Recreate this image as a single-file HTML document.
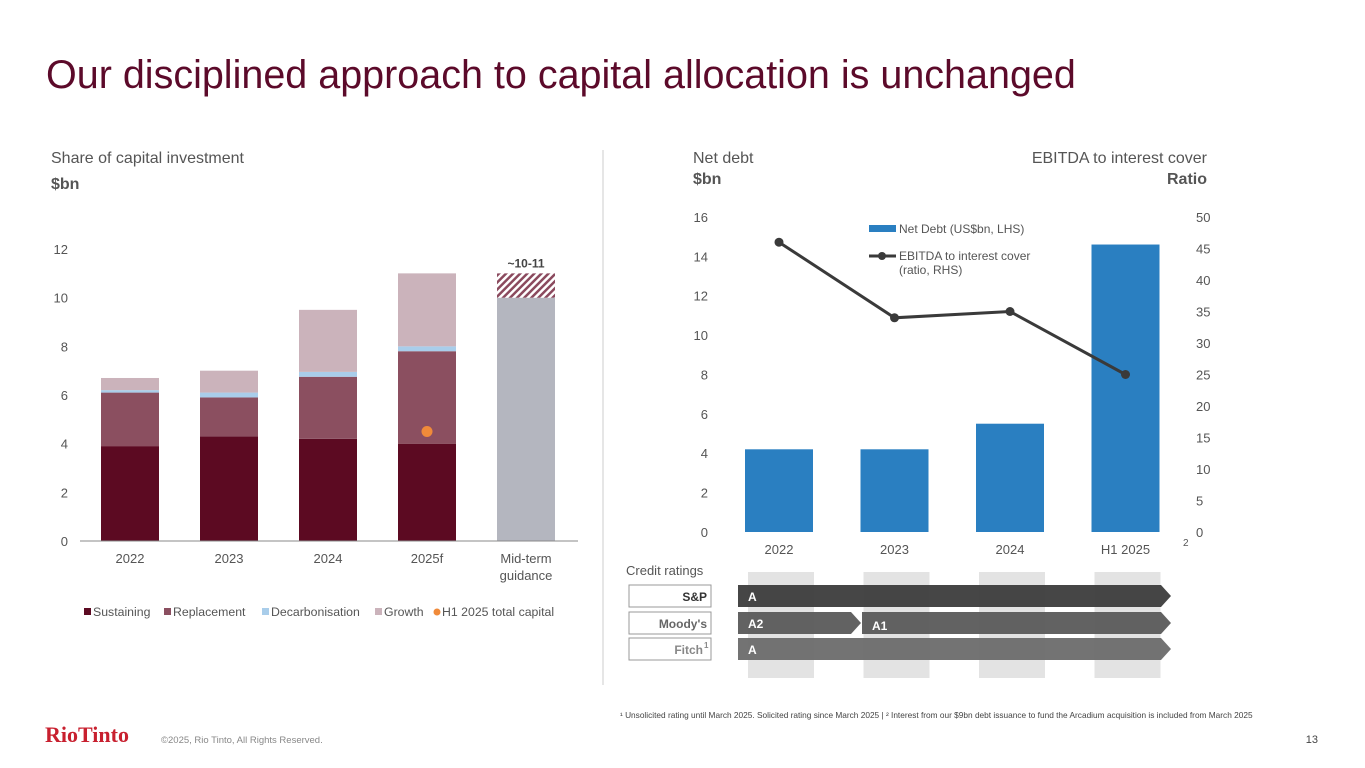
<!DOCTYPE html>
<html><head><meta charset="utf-8">
<style>
body{margin:0;width:1365px;height:768px;background:#fff;overflow:hidden;font-family:"Liberation Sans",sans-serif;}
svg{position:absolute;left:0;top:0}
</style></head>
<body>
<svg id="s" width="1365" height="768" font-family="Liberation Sans, sans-serif">
<defs>
<pattern id="hatch" patternUnits="userSpaceOnUse" width="5" height="5" patternTransform="rotate(45)">
<rect width="5" height="5" fill="#fff"/><rect width="2.5" height="5" fill="#8b4a5e"/>
</pattern>
</defs>
<text x="46" y="88" font-size="39.5" fill="#5c0a2a">Our disciplined approach to capital allocation is unchanged</text>
<text x="51" y="163" font-size="16" fill="#555">Share of capital investment</text>
<text x="51" y="189" font-size="16" font-weight="bold" fill="#555">$bn</text>
<line x1="603" y1="150" x2="603" y2="685" stroke="#ccc" stroke-width="1"/>
<text x="693" y="163" font-size="16" fill="#555">Net debt</text>
<text x="693" y="184" font-size="16" font-weight="bold" fill="#555">$bn</text>
<text x="1207" y="163" font-size="16" fill="#555" text-anchor="end">EBITDA to interest cover</text>
<text x="1207" y="184" font-size="16" font-weight="bold" fill="#555" text-anchor="end">Ratio</text>
<g id="left"></g>
<g id="right"></g>
<g id="credit"></g>
<text x="620" y="718" font-size="8.3" fill="#444">¹ Unsolicited rating until March 2025. Solicited rating since March 2025 | ² Interest from our $9bn debt issuance to fund the Arcadium acquisition is included from March 2025</text>
<text x="45" y="742" font-size="22" font-weight="bold" font-family="Liberation Serif, serif" fill="#c8202f">RioTinto</text>
<text x="161" y="743" font-size="9.5" fill="#888">©2025, Rio Tinto, All Rights Reserved.</text>
<text x="1318" y="743" font-size="11" fill="#444" text-anchor="end">13</text>
</svg>
<script>
const NS="http://www.w3.org/2000/svg";
function mk(p,tag,at,txt){const e=document.createElementNS(NS,tag);for(const k in at)e.setAttribute(k,at[k]);if(txt!=null)e.textContent=txt;p.appendChild(e);return e;}

// Left chart data
const capCategories=["2022","2023","2024","2025f"];
const sustaining=[3.9,4.3,4.2,4.0];
const replacement=[2.2,1.6,2.55,3.8];
const decarbonisation=[0.1,0.2,0.2,0.2];
const growth=[0.5,0.9,2.55,3.0];
const guidanceLow=[10];
const guidanceHigh=[11];
const h1TotalCapital=[4.5];
const leftTicks=[0,2,4,6,8,10,12];

// Right chart data
const debtCategories=["2022","2023","2024","H1 2025"];
const netDebt=[4.2,4.2,5.5,14.6];
const cover=[46,34,35,25];
const lhsTicks=[0,2,4,6,8,10,12,14,16];
const rhsTicks=[0,5,10,15,20,25,30,35,40,45,50];

// Left chart
const L=document.getElementById('left');
const ly=v=>541-v*24.33;
const lx=i=>101+i*99;
const bw=58;
leftTicks.forEach(t=>{const e=mk(L,'text',{x:68,y:ly(t)+5,'font-size':13,fill:'#555','text-anchor':'end'},t);

});
const cols=['#5c0a22','#8b4f60','#a9cdea','#cbb3bb'];
const names=['sustaining','replacement','decarbonisation','growth'];
const series=[sustaining,replacement,decarbonisation,growth];
capCategories.forEach((c,i)=>{let base=0;
series.forEach((s,k)=>{const r=mk(L,'rect',{x:lx(i),y:ly(base+s[i]),width:bw,height:ly(base)-ly(base+s[i]),fill:cols[k]});


base+=s[i];});
const t=mk(L,'text',{x:lx(i)+bw/2,y:563,'font-size':13,fill:'#555','text-anchor':'middle'},c);

});
{const i=4;
const g=mk(L,'rect',{x:lx(i),y:ly(guidanceLow[0]),width:bw,height:ly(0)-ly(guidanceLow[0]),fill:'#b4b6bf'});


const h=mk(L,'rect',{x:lx(i),y:ly(guidanceHigh[0]),width:bw,height:ly(guidanceLow[0])-ly(guidanceHigh[0]),fill:'url(#hatch)'});


const lb=mk(L,'text',{x:lx(i)+bw/2,y:ly(guidanceHigh[0])-6,'font-size':12,'font-weight':'bold',fill:'#444','text-anchor':'middle'},'~10-11');


const t1=mk(L,'text',{x:lx(i)+bw/2,y:563,'font-size':13,fill:'#555','text-anchor':'middle'},'Mid-term');


const t2=mk(L,'text',{x:lx(i)+bw/2,y:580,'font-size':13,fill:'#555','text-anchor':'middle'},'guidance');

}
const ax=mk(L,'line',{x1:80,y1:541,x2:578,y2:541,stroke:'#888'});


const dot=mk(L,'circle',{cx:lx(3)+bw/2,cy:ly(h1TotalCapital[0]),r:5.5,fill:'#f08a3a'});


const legItems=[['Sustaining','#5c0a22',84],['Replacement','#8b4f60',164],['Decarbonisation','#a9cdea',262],['Growth','#cbb3bb',375],['H1 2025 total capital','#f08a3a',433]];
legItems.forEach((it,k)=>{
const m=k==4?mk(L,'circle',{cx:it[2]+4,cy:612,r:3.5,fill:it[1]}):mk(L,'rect',{x:it[2],y:608,width:7,height:7,fill:it[1]});


const t=mk(L,'text',{x:it[2]+9,y:616,'font-size':12.3,fill:'#555'},it[0]);

});

// Right chart
const R=document.getElementById('right');
const ry=v=>532-v*19.69;
const ry2=v=>532-v*6.3;
const rx=i=>745+i*115.5;
const rbw=68;
lhsTicks.forEach(t=>{const e=mk(R,'text',{x:708,y:ry(t)+5,'font-size':13,fill:'#555','text-anchor':'end'},t);

});
rhsTicks.forEach(t=>{const e=mk(R,'text',{x:1196,y:ry2(t)+5,'font-size':13,fill:'#555'},t);

});
debtCategories.forEach((c,i)=>{
const b=mk(R,'rect',{x:rx(i),y:ry(netDebt[i]),width:rbw,height:ry(0)-ry(netDebt[i]),fill:'#2a7fc1'});


const t=mk(R,'text',{x:rx(i)+rbw/2,y:554,'font-size':13,fill:'#555','text-anchor':'middle'},c);

});
const sup=mk(R,'text',{x:1183,y:546,'font-size':10,fill:'#555'},'2');


const pts=cover.map((v,i)=>(rx(i)+rbw/2)+','+ry2(v)).join(' ');
const pl=mk(R,'polyline',{points:pts,fill:'none',stroke:'#3a3a3a','stroke-width':3});


cover.forEach((v,i)=>{const c=mk(R,'circle',{cx:rx(i)+rbw/2,cy:ry2(v),r:4.5,fill:'#3a3a3a'});

});
const l1=mk(R,'rect',{x:869,y:225,width:27,height:7,fill:'#2a7fc1'});


const l1t=mk(R,'text',{x:899,y:233,'font-size':12,fill:'#555'},'Net Debt (US$bn, LHS)');


const l2=mk(R,'line',{x1:869,y1:256,x2:896,y2:256,stroke:'#3a3a3a','stroke-width':3});


const l2c=mk(R,'circle',{cx:882,cy:256,r:4,fill:'#3a3a3a'});


const l2t=mk(R,'text',{x:899,y:260,'font-size':12,fill:'#555'},'EBITDA to interest cover');


const l3t=mk(R,'text',{x:899,y:274,'font-size':12,fill:'#555'},'(ratio, RHS)');



// Credit ratings
const C=document.getElementById('credit');
const ct=mk(C,'text',{x:626,y:575,'font-size':13,fill:'#555'},'Credit ratings');


debtCategories.forEach((c,i)=>{const r=mk(C,'rect',{x:rx(i)+3,y:572,width:66,height:106,fill:'#e3e3e3'});

});
const rows=[['S&P',585,'#3c3c3c','#333'],["Moody's",612,'#5a5a5a','#666'],['Fitch',638,'#6c6c6c','#888']];
function arrow(x1,x2,y,fill,nm){const h=22;const p=mk(C,'polygon',{points:`${x1},${y} ${x2-10},${y} ${x2},${y+h/2} ${x2-10},${y+h} ${x1},${y+h}`,fill:fill,opacity:0.95});

}
rows.forEach((r,k)=>{
const b=mk(C,'rect',{x:629,y:r[1],width:82,height:22,fill:'#fff',stroke:'#999','stroke-width':1});


const t=mk(C,'text',{x:k==2?703:707,y:r[1]+16,'font-size':12,'font-weight':'bold',fill:r[3],'text-anchor':'end'},r[0]);


if(k==2){const s=mk(C,'text',{x:704,y:r[1]+10,'font-size':8,'font-weight':'bold',fill:r[3]},'1');

}
});
arrow(738,1171,585,'#3c3c3c','sp-rating-arrow');
arrow(738,861,612,'#5a5a5a','moodys-a2-arrow');
arrow(862,1171,612,'#5a5a5a','moodys-a1-arrow');
arrow(738,1171,638,'#6c6c6c','fitch-rating-arrow');
[['A',748,601],['A2',748,628],['A1',872,630],['A',748,654]].forEach(a=>{
const t=mk(C,'text',{x:a[1],y:a[2],'font-size':12,'font-weight':'bold',fill:'#fff'},a[0]);

});
</script>
</body></html>
